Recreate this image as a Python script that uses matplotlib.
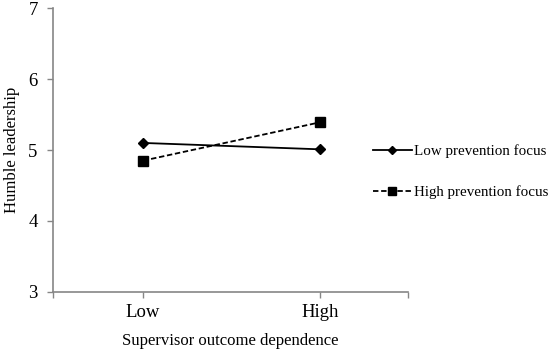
import matplotlib
matplotlib.use("Agg")
import matplotlib.pyplot as plt

# Data
categories = ['Low', 'High']
low_focus = [5.10, 5.01]
high_focus = [4.85, 5.39]
y_ticks = [3, 4, 5, 6, 7]

plt.rcParams['font.family'] = ['Liberation Serif', 'DejaVu Serif']

fig = plt.figure(figsize=(5.5, 3.53), dpi=100)
ax = fig.add_axes([0.0964, 0.173, 0.6456, 0.804])

x = [1, 2]
ax.plot(x, low_focus, '-', color='black', lw=1.3, marker='D', ms=5,
        label='Low prevention focus')
ax.plot(x, high_focus, '--', color='black', lw=1.3, marker='s', ms=6.5,
        dashes=(3, 1.5), label='High prevention focus')

# Axes
ax.set_xlim(0.49, 2.5)
ax.set_ylim(3, 7)
ax.set_xticks([0.49, 1, 2, 2.5])
ax.set_xticklabels(['', categories[0], categories[1], ''])
ax.set_yticks(y_ticks)
ax.tick_params(axis='both', colors='#868686', labelcolor='black',
               labelsize=13.5, length=4, width=1)
ax.tick_params(axis='x', pad=5)
ax.tick_params(axis='y', pad=7)
for s in ['top', 'right']:
    ax.spines[s].set_visible(False)
for s in ['left', 'bottom']:
    ax.spines[s].set_color('#868686')
    ax.spines[s].set_linewidth(1.2)

ax.set_xlabel('Supervisor outcome dependence', fontsize=12, va='center')
ax.set_ylabel('Humble leadership', fontsize=12, va='center')
ax.xaxis.set_label_coords(0.5, -0.172)
ax.yaxis.set_label_coords(-0.115, 0.5)

fig.legend(loc='upper left', bbox_to_anchor=(0.653, 0.63), frameon=False,
           fontsize=10.8, handlelength=2.6, handletextpad=0.15,
           labelspacing=1.85, markerscale=0.8)

fig.savefig('out.png', dpi=100)
